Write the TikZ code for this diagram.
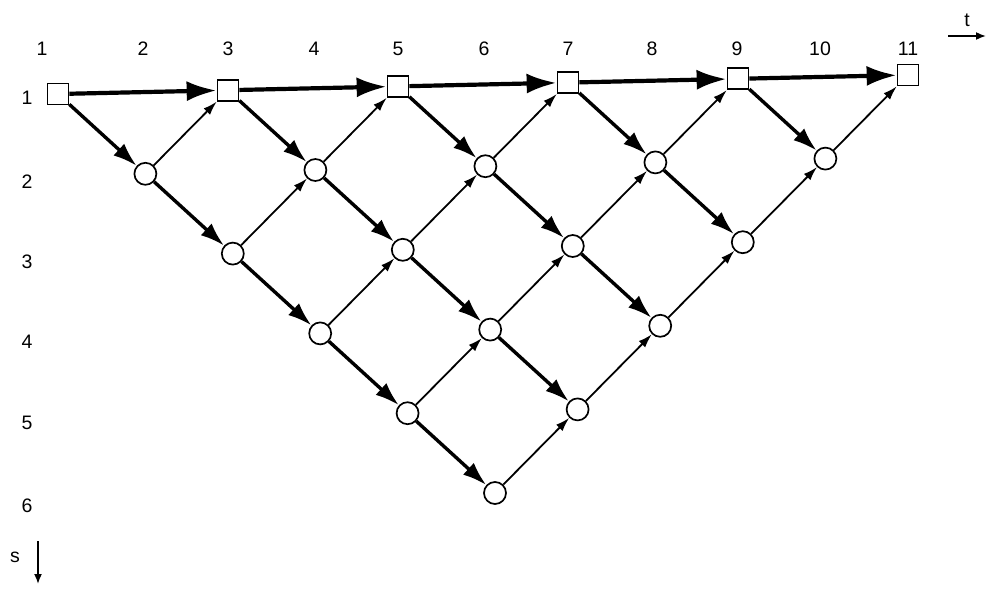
\documentclass[tikz,border=0pt]{standalone}
\usepackage{fontspec}
\setmainfont{Liberation Sans}
\usetikzlibrary{arrows.meta}
\begin{document}
\begin{tikzpicture}[x=1pt,y=-1pt,
 sq/.style={draw,line width=1.7pt,minimum size=21pt,inner sep=0pt,fill=white},
 ci/.style={draw,circle,line width=1.7pt,minimum size=22pt,inner sep=0pt,fill=white},
 lbl/.style={font=\fontsize{19.5}{21}\selectfont,inner sep=0pt},
 hor/.style={line width=4.2pt,-{Latex[length=30pt,width=20pt]}},
 thk/.style={line width=3.4pt,-{Latex[length=24pt,width=16pt]}},
 thn/.style={line width=1.8pt,-{Latex[length=14pt,width=9pt]}},
 axis/.style={line width=1.7pt,-{Latex[length=10pt,width=8pt]}}]
\useasboundingbox (0,0) rectangle (986,589);
% nodes
\foreach \s in {1,...,6}{
  \foreach \t in {1,...,11}{
    \pgfmathtruncatemacro\ok{(\t>=\s)&&(\t+\s<=12)&&(mod(\t+\s,2)==0)}
    \ifnum\ok=1
      \pgfmathsetmacro\xx{58+85*(\t-1)+2.4*(\s-1)}
      \pgfmathsetmacro\yy{94-1.9*(\t-1)+81.7*(\s-1)}
      \ifnum\s=1
        \node[sq] (n-\t-\s) at (\xx,\yy) {};
      \else
        \node[ci] (n-\t-\s) at (\xx,\yy) {};
      \fi
    \fi
  }
}
% horizontal edges
\foreach \t in {1,3,...,9}{
  \pgfmathtruncatemacro\u{\t+2}
  \draw[hor] (n-\t-1) -- (n-\u-1);
}
% diagonal edges
\foreach \s in {1,...,6}{
  \foreach \t in {1,...,11}{
    \pgfmathtruncatemacro\ok{(\t>=\s)&&(\t+\s<=12)&&(mod(\t+\s,2)==0)}
    \ifnum\ok=1
      \pgfmathtruncatemacro\u{\t+1}
      \pgfmathtruncatemacro\dn{\s+1}
      \pgfmathtruncatemacro\up{\s-1}
      \pgfmathtruncatemacro\tsum{\t+\s}
      \ifnum\tsum<11
        \draw[thk] (n-\t-\s) -- (n-\u-\dn);
      \fi
      \ifnum\s>1
        \draw[thn] (n-\t-\s) -- (n-\u-\up);
      \fi
    \fi
  }
}
% column labels
\foreach \t/\x in {1/42,2/143,3/228,4/314,5/398,6/484,7/568,8/652,9/737,10/820,11/908}{
  \node[lbl] (c\t) at (\x,49) {\t};
}
% row labels
\foreach \s/\y in {1/98,2/182,3/262,4/342,5/423,6/506}{
  \node[lbl] (r\s) at (27,\y) {\s};
}
% axes
\node[lbl] (tl) at (967,20) {t};
\coordinate (ta) at (948,36);
\coordinate (tb) at (986,36);
\draw[axis] (ta) -- (tb);
\node[lbl] (sl) at (15,557) {s};
\coordinate (sa) at (38,541);
\coordinate (sb) at (38,584);
\draw[axis] (sa) -- (sb);
\end{tikzpicture}
\end{document}
